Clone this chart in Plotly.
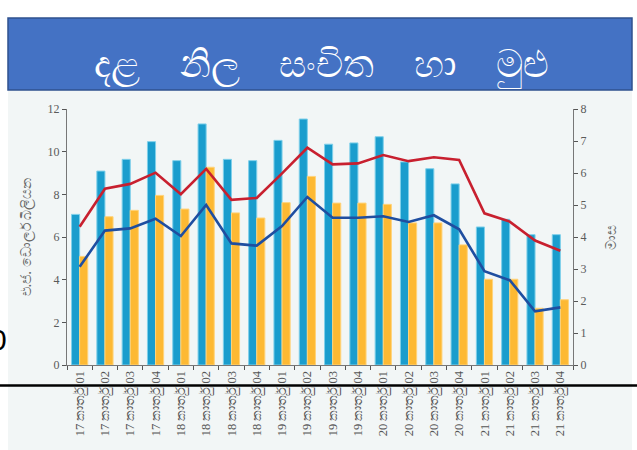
import plotly.graph_objects as go

categories = ["17 කාර්තු 01", "17 කාර්තු 02", "17 කාර්තු 03", "17 කාර්තු 04",
              "18 කාර්තු 01", "18 කාර්තු 02", "18 කාර්තු 03", "18 කාර්තු 04",
              "19 කාර්තු 01", "19 කාර්තු 02", "19 කාර්තු 03", "19 කාර්තු 04",
              "20 කාර්තු 01", "20 කාර්තු 02", "20 කාර්තු 03", "20 කාර්තු 04",
              "21 කාර්තු 01", "21 කාර්තු 02", "21 කාර්තු 03", "21 කාර්තු 04"]

total_reserves = [7.06, 9.09, 9.64, 10.47, 9.58, 11.3, 9.64, 9.58, 10.53, 11.53,
                  10.35, 10.41, 10.7, 9.52, 9.2, 8.49, 6.47, 6.83, 6.11, 6.11]
gross_official = [5.09, 6.95, 7.25, 7.95, 7.31, 9.27, 7.13, 6.89, 7.61, 8.84,
                  7.59, 7.59, 7.53, 6.66, 6.66, 5.63, 4.02, 4.02, 2.66, 3.06]
months_total = [4.32, 5.51, 5.66, 6.01, 5.34, 6.13, 5.16, 5.22, 5.99, 6.79,
                6.27, 6.30, 6.56, 6.37, 6.49, 6.41, 4.74, 4.48, 3.89, 3.57]
months_gor = [3.07, 4.20, 4.27, 4.57, 4.03, 5.0, 3.80, 3.73, 4.34, 5.25,
              4.60, 4.60, 4.65, 4.47, 4.68, 4.24, 2.93, 2.65, 1.68, 1.80]

title_words = ["දළ", "නිල", "සංචිත", "හා", "මුළු"]
left_title = "එ.ජ. ඩොලර් බිලියන"
right_title = "මාස"

W, H = 637, 450
L, R, T, B = 67, 64, 109, 85
pw, ph = W - L - R, H - T - B

def px(x):
    return (x - L) / pw

def py(y):
    return (H - B - y) / ph

fig = go.Figure()
fig.add_trace(go.Bar(x=categories, y=total_reserves, marker=dict(color="#1A9DCD", line=dict(color="#7FD0EA", width=1)),
                     showlegend=False))
fig.add_trace(go.Bar(x=categories, y=gross_official, marker=dict(color="#FDB933", line=dict(color="#FFD37A", width=1)),
                     showlegend=False))
fig.add_trace(go.Scatter(x=categories, y=months_total, mode="lines", yaxis="y2",
                         line=dict(color="#C8202F", width=2.6), showlegend=False))
fig.add_trace(go.Scatter(x=categories, y=months_gor, mode="lines", yaxis="y2",
                         line=dict(color="#1F4EA0", width=2.6), showlegend=False))

tickfont = dict(family="Liberation Serif", size=12, color="#5A5A5A")

fig.update_layout(
    width=W, height=H,
    margin=dict(l=L, r=R, t=T, b=B, autoexpand=False),
    paper_bgcolor="white", plot_bgcolor="rgba(0,0,0,0)",
    barmode="group", bargap=0.36, bargroupgap=0,
    xaxis=dict(type="category", tickson="boundaries", ticks="outside", ticklen=4,
               tickcolor="#555", showline=True, linecolor="#777", linewidth=1,
               tickangle=-90, tickfont=dict(family="Liberation Serif", size=12.5, color="#555"),
               showgrid=False),
    yaxis=dict(range=[0, 12], dtick=2, ticks="outside", ticklen=4, tickcolor="#555",
               showline=True, linecolor="#777", linewidth=1, showgrid=False, zeroline=False,
               tickfont=tickfont,
               title=dict(text=left_title, font=dict(family="Noto Sans", size=14, color="#666"), standoff=12)),
    yaxis2=dict(range=[0, 8], dtick=1, overlaying="y", side="right", ticks="outside", ticklen=4,
                tickcolor="#555", showline=True, linecolor="#777", linewidth=1, showgrid=False,
                zeroline=False, tickfont=tickfont,
                title=dict(text=right_title, font=dict(family="Noto Sans", size=14, color="#666"), standoff=20)),
    shapes=[
        dict(type="rect", xref="paper", yref="paper", x0=px(8), x1=px(632), y0=py(90), y1=py(452),
             fillcolor="#F2F6F6", line=dict(width=0), layer="below"),
        dict(type="rect", xref="paper", yref="paper", x0=px(8), x1=px(632), y0=py(90), y1=py(18),
             fillcolor="#4472C4", line=dict(color="#2F528F", width=1.5), layer="above"),
        dict(type="line", xref="paper", yref="paper", x0=px(-5), x1=px(645), y0=py(385.5), y1=py(385.5),
             line=dict(color="black", width=2.5), layer="above"),
    ],
    annotations=[
        dict(text="\u00a0\u00a0\u00a0\u00a0".join(title_words), xref="paper", yref="paper", x=px(321), y=py(62),
             xanchor="center", yanchor="middle",
             showarrow=False, font=dict(family="Noto Sans", size=38, color="white")),
        dict(text="0", xref="paper", yref="paper", x=px(-2), y=py(339), xanchor="center", yanchor="middle",
             showarrow=False, font=dict(family="Liberation Sans", size=30, color="black")),
    ],
)

fig.write_html("out.html", config={"displayModeBar": False},
               post_script="document.body.style.margin='0';document.body.style.overflow='hidden';")
